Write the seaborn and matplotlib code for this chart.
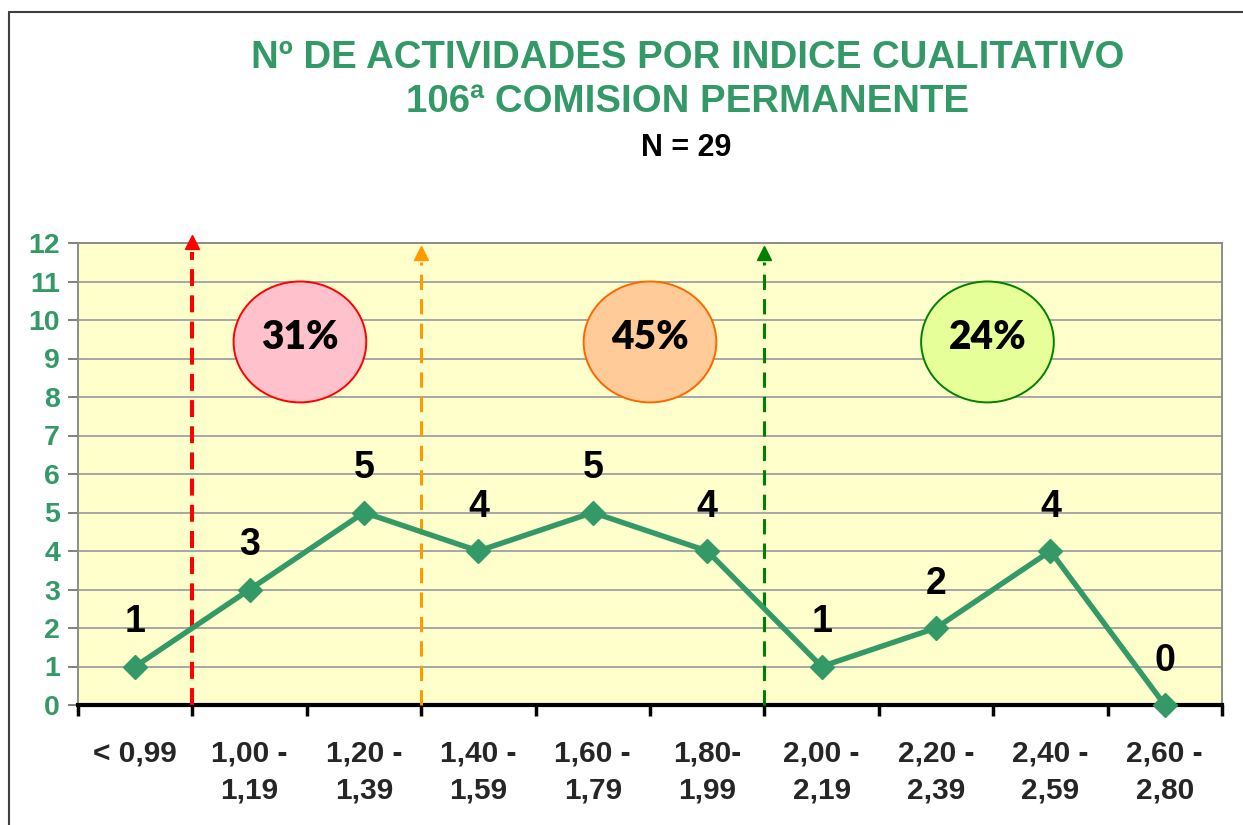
import numpy as np
import pandas as pd
import matplotlib
matplotlib.use("Agg")
import matplotlib.pyplot as plt
import seaborn as sns
from matplotlib.patches import Ellipse

# ---- data ----
categories = ["< 0,99", "1,00 -\n1,19", "1,20 -\n1,39", "1,40 -\n1,59", "1,60 -\n1,79",
              "1,80-\n1,99", "2,00 -\n2,19", "2,20 -\n2,39", "2,40 -\n2,59", "2,60 -\n2,80"]
values = [1, 3, 5, 4, 5, 4, 1, 2, 4, 0]
y_ticks = list(range(0, 13))
percent_labels = ["31%", "45%", "24%"]
title_line1 = "Nº DE ACTIVIDADES POR INDICE CUALITATIVO"
title_line2 = "106ª COMISION PERMANENTE"
subtitle = "N = 29"

GREEN = "#339966"

sns.set_theme(style="white")
plt.rcParams["font.family"] = ["Liberation Sans", "DejaVu Sans"]

fig = plt.figure(figsize=(12.43, 8.25), dpi=100)
ax = fig.add_axes([78/1243, 1-705/825, (1222-78)/1243, (705-243)/825])
ax.set_facecolor("#FFFFCC")

df = pd.DataFrame({"pos": np.arange(len(values)), "n": values})
sns.lineplot(data=df, x="pos", y="n", ax=ax, color=GREEN, lw=3.9,
             marker="D", markersize=12, markeredgecolor=GREEN, markeredgewidth=1,
             clip_on=False, zorder=5)

ax.set_xlim(-0.5, len(values) - 0.5)
ax.set_ylim(0, 12)

# grid
ax.set_yticks(y_ticks)
ax.yaxis.grid(True, color="#A6A6A6", lw=1.4)
ax.xaxis.grid(False)
ax.set_axisbelow(True)

# y tick labels
ax.set_yticklabels([str(t) for t in y_ticks], color=GREEN, fontsize=20.5, fontweight="bold")
ax.tick_params(axis="y", direction="out", length=7, width=1.4, color="#808080", pad=6, left=True)

# x ticks: boundaries as major ticks, labels at centres as minor
ax.set_xticks(np.arange(-0.5, len(values)), labels=[""] * (len(values) + 1))
ax.set_xticks(np.arange(len(values)), labels=categories, minor=True)
ax.tick_params(axis="x", which="major", direction="out", length=8, width=2.5, color="black", bottom=True)
ax.tick_params(axis="x", which="minor", length=0, pad=25)
for lab in ax.get_xticklabels(minor=True):
    lab.set_fontsize(21.5)
    lab.set_fontweight("bold")
    lab.set_verticalalignment("top")
    lab.set_linespacing(1.4)
ax.set_xlabel("")
ax.set_ylabel("")

for s in ["left", "right", "top"]:
    ax.spines[s].set_color("#8C8C8C")
    ax.spines[s].set_linewidth(1.4)
ax.spines["bottom"].set_color("black")
ax.spines["bottom"].set_linewidth(3)

# value labels
for i, v in enumerate(values):
    ax.annotate(str(v), (i, v), xytext=(0, 19), textcoords="offset points",
                ha="center", va="bottom", fontsize=27, fontweight="bold", color="black")

# threshold dashed arrows
thresholds = [(0.5, "#FF0000", 12.02, 2.9, (0, (4.2, 2.3))),
              (2.5, "#FF9900", 11.75, 2.2, (0, (5, 3))),
              (5.5, "#008000", 11.75, 2.2, (0, (5, 3)))]
for x, c, top, lw, ls in thresholds:
    ax.plot([x, x], [0, top - 0.25], color=c, lw=lw, ls=ls, clip_on=False, zorder=3)
    ax.plot([x], [top], marker="^", ms=10, color=c, mec=c, clip_on=False, zorder=3)

# percentage ellipses
ell_specs = [(1.44, "#FFC1CC", "#FF0000"),
             (4.50, "#FFCC99", "#FF6600"),
             (7.45, "#E6FF99", "#008000")]
for (cx, fc, ec), lab in zip(ell_specs, percent_labels):
    e = Ellipse((cx, 9.43), width=1.16, height=3.14, facecolor=fc, edgecolor=ec, lw=1.4, zorder=4)
    ax.add_patch(e)
    ax.text(cx, 9.55, lab, ha="center", va="center", fontsize=28, fontweight="heavy",
            family=["Lato", "DejaVu Sans"], color="black", zorder=5)

# titles
fig.text(688/1243, 1-58/825, title_line1, ha="center", va="center", color=GREEN,
         fontsize=27.6, fontweight="bold")
fig.text(688/1243, 1-102/825, title_line2, ha="center", va="center", color=GREEN,
         fontsize=27.6, fontweight="bold")
fig.text(686/1243, 1-148/825, subtitle, ha="center", va="center", color="black",
         fontsize=22, fontweight="bold")

# figure frame (top and left edges visible)
fig.add_artist(plt.Line2D([9/1243, 9/1243], [0, 1-12/825], color="#404040", lw=1.5,
                          transform=fig.transFigure))
fig.add_artist(plt.Line2D([9/1243, 1], [1-12/825, 1-12/825], color="#404040", lw=1.5,
                          transform=fig.transFigure))

fig.savefig("out.png", dpi=100, facecolor="white")
